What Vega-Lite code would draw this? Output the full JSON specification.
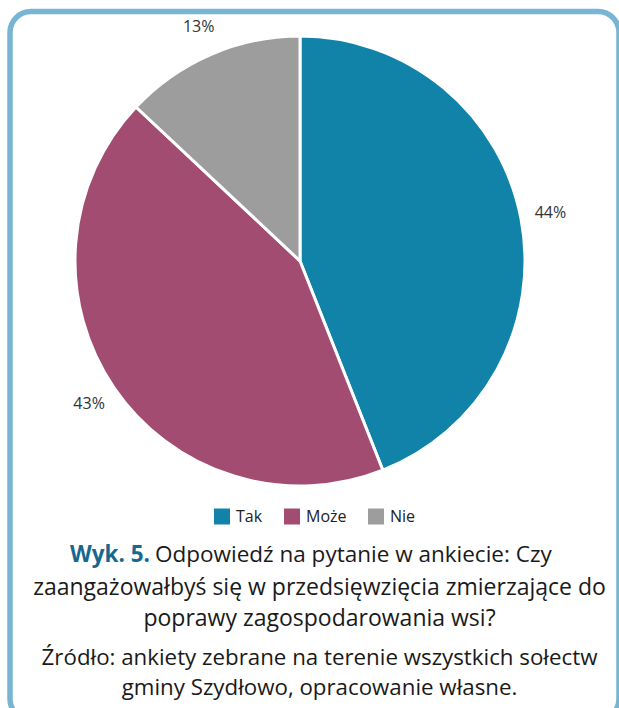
{
  "$schema": "https://vega.github.io/schema/vega-lite/v6.json",
  "width": 609,
  "height": 708.5,
  "autosize": {"type": "none"},
  "padding": {"left": 10, "top": 11.5, "right": 0, "bottom": -12},
  "background": "white",
  "config": {
    "font": "Open Sans",
    "view": {"stroke": null}
  },
  "title": {
    "text": ["zaangażowałbyś się w przedsięwzięcia zmierzające do", "poprawy zagospodarowania wsi?"],
    "subtitle": ["Źródło: ankiety zebrane na terenie wszystkich sołectw", "gminy Szydłowo, opracowanie własne."],
    "orient": "bottom",
    "anchor": "middle",
    "frame": "group",
    "font": "Open Sans",
    "fontSize": 23,
    "fontWeight": "normal",
    "color": "#1a1a1a",
    "lineHeight": 31.5,
    "subtitleFont": "Open Sans",
    "subtitleFontSize": 22.3,
    "subtitleColor": "#1a1a1a",
    "subtitleLineHeight": 30,
    "subtitlePadding": 16,
    "offset": 0,
    "dx": 5,
    "dy": -146
  },
  "data": {
    "values": [
      {"answer": "Tak", "share": 0.44},
      {"answer": "Może", "share": 0.43},
      {"answer": "Nie", "share": 0.13}
    ]
  },
  "layer": [
    {
      "data": {"values": [{}]},
      "mark": {"type": "rect", "fill": null, "fillOpacity": 0, "stroke": "#78b5d4", "strokeWidth": 5.5, "cornerRadius": 21},
      "encoding": {
        "x": {"value": 0},
        "x2": {"value": "width"},
        "y": {"value": 0},
        "y2": {"value": "height"}
      }
    },
    {
      "mark": {"type": "arc", "outerRadius": 225, "stroke": "white", "strokeWidth": 3, "x": 290, "y": 249.5},
      "encoding": {
        "theta": {"field": "share", "type": "quantitative", "stack": true},
        "order": {"field": "share", "sort": "descending"},
        "color": {
          "field": "answer",
          "type": "nominal",
          "sort": ["Tak", "Może", "Nie"],
          "scale": {"domain": ["Tak", "Może", "Nie"], "range": ["#1283a8", "#a34c72", "#9d9d9d"]},
          "legend": {
            "orient": "none",
            "legendX": 204,
            "legendY": 497,
            "direction": "horizontal",
            "title": null,
            "symbolType": "square",
            "symbolSize": 256,
            "symbolStrokeWidth": 0,
            "labelFontSize": 16,
            "labelColor": "#222222",
            "labelFont": "Open Sans",
            "columnPadding": 21,
            "labelOffset": 6,
            "padding": 0
          }
        }
      }
    },
    {
      "mark": {"type": "text", "radius": 255, "x": 290, "y": 249.5, "fontSize": 16, "color": "#333333"},
      "encoding": {
        "theta": {"field": "share", "type": "quantitative", "stack": true},
        "order": {"field": "share", "sort": "descending"},
        "text": {"field": "share", "type": "quantitative", "format": ".0%"}
      }
    },
    {
      "data": {"values": [{"caption": "Wyk. 5."}]},
      "mark": {"type": "text", "align": "right", "baseline": "alphabetic", "fontWeight": "bold", "fontSize": 22.5, "color": "#17688f", "dx": -164.5, "dy": 196},
      "encoding": {"text": {"field": "caption", "type": "nominal"}}
    },
    {
      "data": {"values": [{"caption": "Odpowiedź na pytanie w ankiecie: Czy"}]},
      "mark": {"type": "text", "align": "left", "baseline": "alphabetic", "fontSize": 22.5, "color": "#1a1a1a", "dx": -159.5, "dy": 196},
      "encoding": {"text": {"field": "caption", "type": "nominal"}}
    }
  ]
}
